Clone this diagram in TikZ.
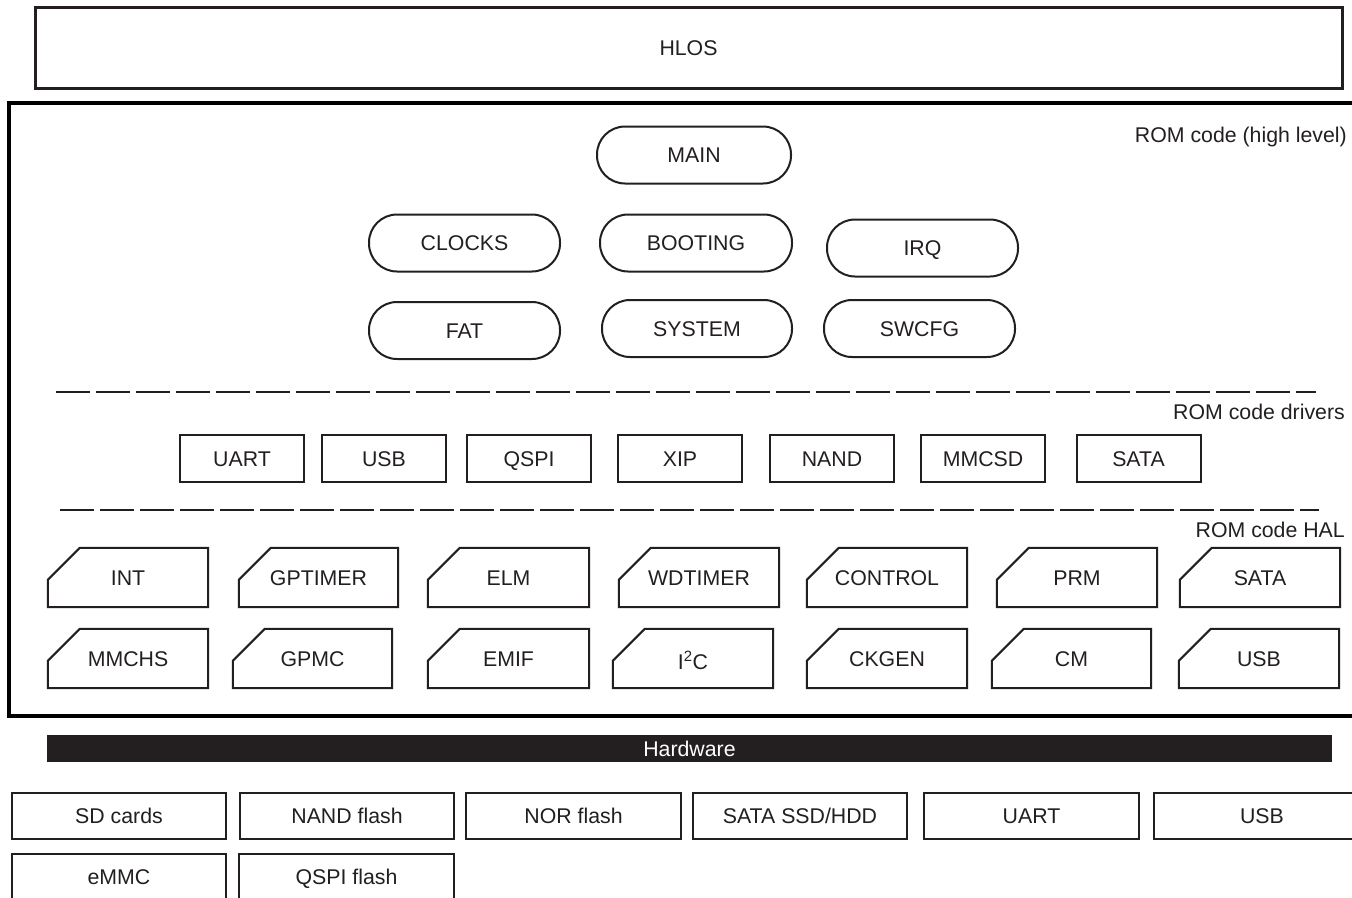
\documentclass[tikz,border=0pt]{standalone}
\usepackage{fontspec}
\setmainfont{Liberation Sans}
\definecolor{lc}{RGB}{35,31,32}
\tikzset{
  txt/.style={font=\fontsize{21.3}{25}\selectfont, text=lc, inner sep=0pt, text height=15.3pt, text depth=0pt},
  bigbox/.style={draw=lc, line width=3pt},
  rombox/.style={draw=black, line width=4pt},
  pill/.style={txt, draw=lc, line width=2pt, rounded corners=28pt, minimum height=57pt},
  drvbox/.style={txt, draw=lc, line width=2pt, minimum width=124pt, minimum height=47pt},
  halnode/.style={txt, minimum width=#1, minimum height=59pt},
  halline/.style={draw=lc, line width=2pt, line join=miter},
  hwbox/.style={txt, draw=lc, line width=2pt, minimum height=46pt},
  sep/.style={draw=lc, line width=2.5pt, dash pattern=on 34pt off 6pt},
  lbl/.style={txt, anchor=east}
}
\begin{document}
\begin{tikzpicture}[x=1pt,y=-1pt]
\useasboundingbox[fill=white] (0,0) rectangle (1352,897);

% HLOS
\node[bigbox, txt, minimum width=1307pt, minimum height=81pt] (hlos) at (688.5,47.5) {HLOS};

% ROM code box
\draw[rombox] (9,103) rectangle (1362,716);
\node[lbl] (lhigh) at (1347,135) {ROM code (high level)};

% high level pills
\node[pill, minimum width=194pt] (main) at (694,155) {MAIN};
\node[pill, minimum width=191pt] (clocks) at (464.5,243) {CLOCKS};
\node[pill, minimum width=192pt] (booting) at (696,243) {BOOTING};
\node[pill, minimum width=191pt] (irq) at (922.5,248) {IRQ};
\node[pill, minimum width=191pt] (fat) at (464.5,330.5) {FAT};
\node[pill, minimum width=190pt] (system) at (697,328.5) {SYSTEM};
\node[pill, minimum width=191pt] (swcfg) at (919.5,328.5) {SWCFG};

% separator 1
\coordinate (s1a) at (56,392);
\coordinate (s1b) at (1316,392);
\draw[sep] (s1a) -- (s1b);
\node[lbl] (ldrv) at (1345,412) {ROM code drivers};

% drivers
\foreach \nm/\cx/\t in {duart/242/UART, dusb/384/USB, dqspi/529/QSPI, dxip/680/XIP, dnand/832/NAND, dmmcsd/983/MMCSD, dsata/1138.5/SATA}
  \node[drvbox] (\nm) at (\cx,458.5) {\t};

% separator 2
\coordinate (s2a) at (60,510);
\coordinate (s2b) at (1319,510);
\draw[sep] (s2a) -- (s2b);
\node[lbl] (lhal) at (1345,530) {ROM code HAL};

% HAL shapes
\foreach \nm/\l/\r/\cy/\t in {
  hint/48/208/577.5/INT, hgpt/239/398/577.5/GPTIMER, helm/428/589/577.5/ELM,
  hwdt/619/779/577.5/WDTIMER, hctl/807/967/577.5/CONTROL, hprm/997/1157/577.5/PRM,
  hsata/1180/1340/577.5/SATA,
  hmmc/48/208/658.5/MMCHS, hgpmc/233/392/658.5/GPMC, hemif/428/589/658.5/EMIF,
  hitc/613/773/658.5/{\raisebox{-3pt}{I\textsuperscript{2}C}}, hckg/807/967/658.5/CKGEN, hcm/992/1151/658.5/CM,
  husb/1179/1339/658.5/USB}
{
  \node[halnode={(\r-\l)*1pt}] (\nm) at ({(\l+\r)/2},\cy) {\t};
  \draw[halline] (\nm.south west) -- ([yshift=-32pt]\nm.north west) -- ([xshift=32pt]\nm.north west) -- (\nm.north east) -- (\nm.south east) -- cycle;
}

% Hardware bar
\node[fill=lc, minimum width=1285pt, minimum height=27pt, inner sep=0pt, font=\fontsize{21.3}{25}\selectfont, text height=15.3pt, text depth=0pt, text=white] (hw) at (689.5,748.5) {Hardware};

% hardware devices
\node[hwbox, minimum width=214pt] (sd) at (119,816) {SD cards};
\node[hwbox, minimum width=214pt] (nandf) at (347,816) {NAND flash};
\node[hwbox, minimum width=215pt] (norf) at (573.5,816) {NOR flash};
\node[hwbox, minimum width=214pt] (ssd) at (800,816) {SATA SSD/HDD};
\node[hwbox, minimum width=215pt] (huart) at (1031.5,816) {UART};
\node[hwbox, minimum width=216pt] (husbd) at (1262,816) {USB};
\node[hwbox, minimum width=214pt] (emmc) at (119,877) {eMMC};
\node[hwbox, minimum width=215pt] (qspif) at (346.5,877) {QSPI flash};
\end{tikzpicture}
\end{document}
